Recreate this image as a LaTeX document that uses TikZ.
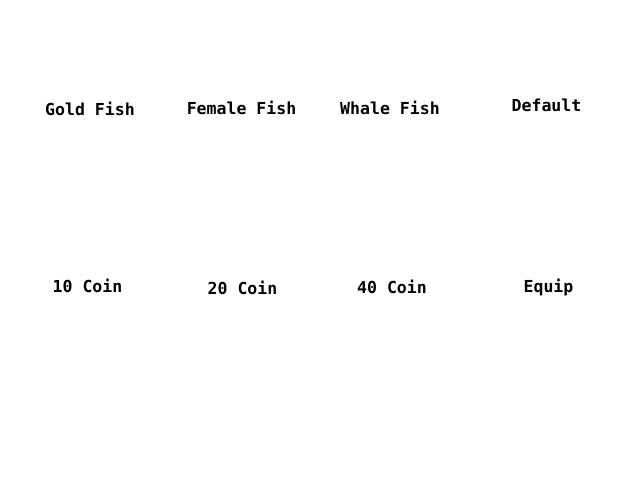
\documentclass[tikz,border=0pt]{standalone}
\usepackage{fontspec}
\usepackage{tikz}
\newfontfamily\pixfont{DejaVu Sans Mono}

\begin{document}
\begin{tikzpicture}[x=0.75pt, y=-0.75pt,
	lbl/.style={font=\pixfont\bfseries\fontsize{12.4}{14}\selectfont, inner sep=0pt, anchor=center}]
	\useasboundingbox[fill=white] (0,0) rectangle (640,480);
	
	\node[lbl] (gold) at (90,109) {Gold Fish};
	\node[lbl] (female) at (241.5,108) {Female Fish};
	\node[lbl] (whale) at (390,108) {Whale Fish};
	\node[lbl] (default) at (546.5,105) {Default};
	
	\node[lbl] (coin10) at (87.5,286) {10 Coin};
	\node[lbl] (coin20) at (242.5,288) {20 Coin};
	\node[lbl] (coin40) at (392,287) {40 Coin};
	\node[lbl] (equip) at (548.5,287) {Equip};
\end{tikzpicture}
\end{document}
